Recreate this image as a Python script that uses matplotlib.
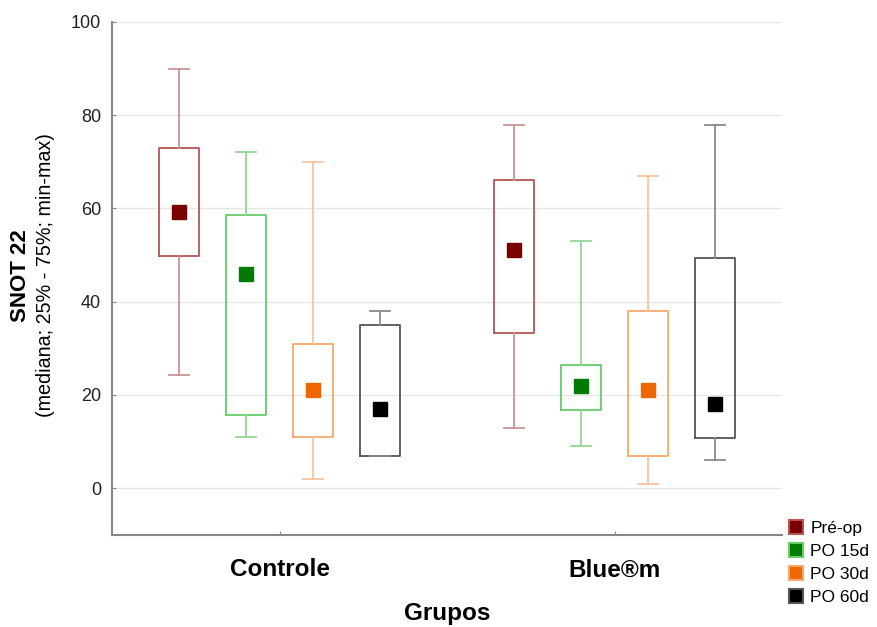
import numpy as np
import matplotlib.pyplot as plt
from matplotlib.patches import Patch

plt.rcParams['font.family'] = ['Liberation Sans', 'DejaVu Sans']

# Daten
grupos = ['Controle', 'Blue®m']
series = ['Pré-op', 'PO 15d', 'PO 30d', 'PO 60d']

mediana = {'Pré-op': [59.3, 51], 'PO 15d': [46, 22], 'PO 30d': [21, 21], 'PO 60d': [17, 18]}
q25 = {'Pré-op': [49.7, 33.2], 'PO 15d': [15.8, 16.7], 'PO 30d': [11, 7], 'PO 60d': [7, 10.7]}
q75 = {'Pré-op': [73, 66], 'PO 15d': [58.5, 26.5], 'PO 30d': [31, 38], 'PO 60d': [35, 49.3]}
vmin = {'Pré-op': [24.2, 13], 'PO 15d': [11, 9], 'PO 30d': [2, 1], 'PO 60d': [7, 6]}
vmax = {'Pré-op': [90, 78], 'PO 15d': [72, 53], 'PO 30d': [70, 67], 'PO 60d': [38, 78]}

# Farben: Rand (hell) und Marker (kräftig)
edge_col = ['#b55555', '#66cc66', '#f7a86a', '#555555']
whisk_col = ['#cc9494', '#94d694', '#f9c49e', '#8a8a8a']
mark_col = ['#7a0000', '#007a00', '#ee6600', '#000000']
offsets = [-0.3, -0.1, 0.1, 0.3]

fig = plt.figure(figsize=(8.77, 6.27), dpi=100)
ax = fig.add_axes([0.128, 0.147, 0.764, 0.818])

x = np.arange(1, len(grupos) + 1)
for i, s in enumerate(series):
    stats = []
    for j in range(len(grupos)):
        stats.append({'med': mediana[s][j], 'q1': q25[s][j], 'q3': q75[s][j],
                      'whislo': vmin[s][j], 'whishi': vmax[s][j]})
    ax.bxp(stats, positions=x + offsets[i], widths=0.12, showfliers=False,
           boxprops=dict(color=edge_col[i], linewidth=1.3),
           whiskerprops=dict(color=whisk_col[i], linewidth=1.3),
           capprops=dict(color=whisk_col[i], linewidth=1.3),
           medianprops=dict(linewidth=0), capwidths=0.06)
    ax.plot(x + offsets[i], mediana[s], 's', color=mark_col[i], markersize=10,
            linestyle='none', zorder=4)

ax.set_xlim(0.5, 2.5)
ax.set_ylim(-10, 100)
ax.set_yticks(np.arange(0, 101, 20))
ax.set_xticks(x)
ax.set_xticklabels(grupos, fontsize=17.5, fontweight='bold')
ax.tick_params(axis='y', labelsize=13, direction='in', length=3, color='#888888',
               pad=8, labelcolor='#222222')
ax.tick_params(axis='x', direction='in', length=3, color='#888888', pad=17)
ax.yaxis.grid(True, color='#e6e6e6', linewidth=1)
ax.set_axisbelow(True)
for sp in ['top', 'right']:
    ax.spines[sp].set_visible(False)
for sp in ['left', 'bottom']:
    ax.spines[sp].set_color('#888888')
    ax.spines[sp].set_linewidth(1.5)

ax.set_xlabel('Grupos', fontsize=17.5, fontweight='bold', labelpad=15)
fig.text(0.023, 0.561, 'SNOT 22', rotation=90, fontsize=16, fontweight='bold',
         ha='center', va='center')
fig.text(0.052, 0.561, '(mediana; 25% - 75%; min-max)', rotation=90, fontsize=14.2,
         ha='center', va='center')

handles = [Patch(facecolor=mark_col[i], edgecolor=edge_col[i], linewidth=1.5)
           for i in range(len(series))]
fig.legend(handles, series, loc='lower left', bbox_to_anchor=(0.9, 0.035),
           frameon=False, fontsize=12.5, handlelength=0.8, handleheight=0.8,
           handletextpad=0.4, labelspacing=0.42, borderaxespad=0, borderpad=0)

fig.savefig('out.png', dpi=100)
